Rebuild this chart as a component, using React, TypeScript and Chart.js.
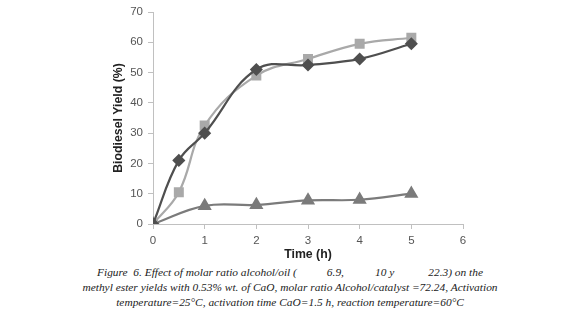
import React, { useEffect, useRef } from "react";
import { Chart, registerables } from "chart.js";

Chart.register(...registerables);

const timeDiamond = [0, 0.5, 1, 2, 3, 4, 5];
const yieldDiamond = [0, 21, 30, 51, 52.5, 54.5, 59.5];
const timeSquare = [0, 0.5, 1, 2, 3, 4, 5];
const yieldSquare = [0, 10.5, 32.5, 49, 54.5, 59.5, 61.5];
const timeTriangle = [0, 1, 2, 3, 4, 5];
const yieldTriangle = [0, 6, 6.3, 7.8, 8, 10];

const xTitle = "Time (h)";
const yTitle = "Biodiesel Yield (%)";

const pts = (xs: number[], ys: number[]) => xs.map((x, i) => ({ x, y: ys[i] }));

export default function App() {
  const ref = useRef<HTMLCanvasElement>(null);
  useEffect(() => {
    if (!ref.current) return;
    const tickFont = { family: "Liberation Sans, Arial, sans-serif", size: 11.5 };
    const titleFont = { family: "Liberation Sans, Arial, sans-serif", size: 12.3, weight: "bold" as const };
    const chart = new Chart(ref.current, {
      type: "line",
      data: {
        datasets: [
          {
            label: "A",
            data: pts(timeDiamond, yieldDiamond),
            borderColor: "#4f4f4f",
            backgroundColor: "#4f4f4f",
            pointStyle: "rectRot",
            pointRadius: 5,
            borderWidth: 2.2,
            tension: 0.4,
          },
          {
            label: "B",
            data: pts(timeSquare, yieldSquare),
            borderColor: "#a9a9a9",
            backgroundColor: "#a9a9a9",
            pointStyle: "rect",
            pointRadius: 5.5,
            borderWidth: 2.2,
            tension: 0.4,
          },
          {
            label: "C",
            data: pts(timeTriangle, yieldTriangle),
            borderColor: "#7b7b7b",
            backgroundColor: "#7b7b7b",
            pointStyle: "triangle",
            pointRadius: 6,
            borderWidth: 2.2,
            tension: 0.4,
          },
        ],
      },
      options: {
        animation: false,
        responsive: false,
        maintainAspectRatio: false,
        layout: { padding: { left: 111, right: 117, top: 12, bottom: 0 } },
        plugins: { legend: { display: false }, tooltip: { enabled: false } },
        scales: {
          x: {
            type: "linear",
            min: 0,
            max: 6,
            afterFit: (s: any) => { s.height = 38; },
            border: { color: "#c0c0c0", width: 1 },
            grid: { display: true, drawOnChartArea: false, tickLength: 5, color: "#c0c0c0" },
            ticks: { stepSize: 1, color: "#555", font: tickFont, padding: 5 },
            title: {
              display: true,
              text: xTitle,
              color: "#222",
              font: titleFont,
              padding: { top: 1, bottom: 0 },
            },
          },
          y: {
            min: 0,
            max: 70,
            afterFit: (s: any) => { s.width = 42; },
            border: { color: "#c0c0c0", width: 1 },
            grid: { display: true, drawOnChartArea: false, tickLength: 5, color: "#c0c0c0" },
            ticks: { stepSize: 10, color: "#555", font: tickFont, padding: 5 },
            title: {
              display: true,
              text: yTitle,
              color: "#222",
              font: titleFont,
              padding: { top: 0, bottom: 0 },
            },
          },
        },
      },
    });
    return () => chart.destroy();
  }, []);

  const cap: React.CSSProperties = {
    fontFamily: "Liberation Serif, Times New Roman, serif",
    fontStyle: "italic",
    fontSize: 11.4,
    lineHeight: "14.8px",
    color: "#222",
    textAlign: "center",
    whiteSpace: "nowrap",
  };

  return (
    <div style={{ position: "fixed", left: 0, top: 0, width: 580, height: 317, background: "#fff" }}>
      <canvas ref={ref} width={580} height={262} style={{ display: "block", width: 580, height: 262 }} />
      <div style={{ ...cap, position: "absolute", top: 265, left: 0, width: 580 }}>
        <div>
          Figure&nbsp; 6. Effect of molar ratio alcohol/oil (
          <span style={{ marginLeft: 30 }}>6.9,</span>
          <span style={{ marginLeft: 31 }}>10 y</span>
          <span style={{ marginLeft: 34 }}>22.3) on the</span>
        </div>
        <div>methyl ester yields with 0.53% wt. of CaO, molar ratio Alcohol/catalyst =72.24, Activation</div>
        <div>temperature=25°C, activation time CaO=1.5 h, reaction temperature=60°C</div>
      </div>
    </div>
  );
}
